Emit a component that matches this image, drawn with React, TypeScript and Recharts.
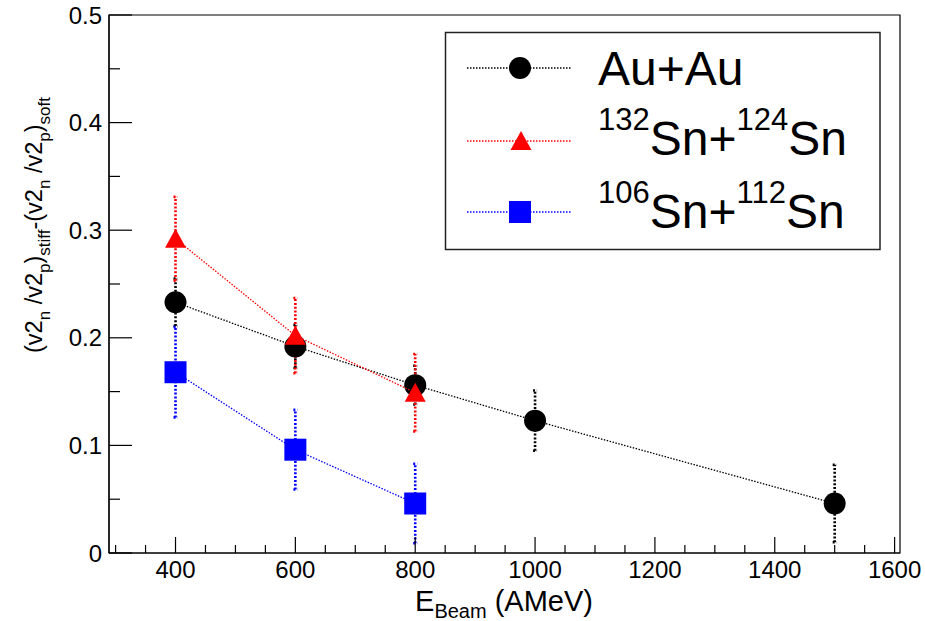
import React from 'react';
import { ScatterChart, Scatter, XAxis, YAxis, ErrorBar, ReferenceArea } from 'recharts';

// beam energy (AMeV) and difference of the elliptic flow ratio, per system
const auEnergy = [400, 600, 800, 1000, 1500];
const auValue = [0.233, 0.192, 0.156, 0.123, 0.046];
const auError = [0.022, 0.02, 0.018, 0.028, 0.036];

const sn132Energy = [400, 600, 800];
const sn132Value = [0.292, 0.202, 0.149];
const sn132Error = [0.039, 0.035, 0.036];

const sn106Energy = [400, 600, 800];
const sn106Value = [0.168, 0.096, 0.046];
const sn106Error = [0.042, 0.037, 0.037];

const xTicks = [300, 350, 400, 450, 500, 550, 600, 650, 700, 750, 800, 850, 900, 950, 1000,
  1050, 1100, 1150, 1200, 1250, 1300, 1350, 1400, 1450, 1500, 1550, 1600];
const xMajor = [400, 600, 800, 1000, 1200, 1400, 1600];
const yTicks = [0, 0.05, 0.1, 0.15, 0.2, 0.25, 0.3, 0.35, 0.4, 0.45, 0.5];
const yMajor = [0, 0.1, 0.2, 0.3, 0.4, 0.5];

const FONT = '"Liberation Sans", Arial, Helvetica, sans-serif';

const toPoints = (xs: number[], ys: number[], es: number[]) =>
  xs.map((x, i) => ({ x, y: ys[i], err: es[i] }));

const auData = toPoints(auEnergy, auValue, auError);
const sn132Data = toPoints(sn132Energy, sn132Value, sn132Error);
const sn106Data = toPoints(sn106Energy, sn106Value, sn106Error);

const XTick = (props: any) => {
  const { x, y, payload } = props;
  const major = xMajor.includes(payload.value);
  return (
    <g>
      <line x1={x} y1={y} x2={x} y2={y - (major ? 16 : 8)} stroke="#000" strokeWidth={1.2} />
      {major && (
        <text x={x} y={y + 25} textAnchor="middle" fontSize={24} fontFamily={FONT} fill="#000">
          {payload.value}
        </text>
      )}
    </g>
  );
};

const YTick = (props: any) => {
  const { x, y, payload } = props;
  const major = yMajor.includes(payload.value);
  return (
    <g>
      <line x1={x} y1={y} x2={x + (major ? 23 : 11)} y2={y} stroke="#000" strokeWidth={1.2} />
      {major && (
        <text x={x - 7} y={y + 8.5} textAnchor="end" fontSize={24} fontFamily={FONT} fill="#000">
          {payload.value}
        </text>
      )}
    </g>
  );
};

const Dot = (props: any) => <circle cx={props.cx} cy={props.cy} r={11} fill="#000" />;
const Tri = (props: any) => (
  <polygon
    points={`${props.cx},${props.cy - 10} ${props.cx - 10.5},${props.cy + 9} ${props.cx + 10.5},${props.cy + 9}`}
    fill="#ff0000"
  />
);
const Sq = (props: any) => (
  <rect x={props.cx - 11} y={props.cy - 11} width={22} height={22} fill="#0000ff" />
);

const YTitle = () => (
  <text transform="translate(42, 97) rotate(-90)" textAnchor="end" fontFamily={FONT} fontSize={23.5} fill="#000">
    <tspan>(v2</tspan>
    <tspan fontSize={17} dy={8}>n</tspan>
    <tspan dy={-8}> /v2</tspan>
    <tspan fontSize={17} dy={8}>p</tspan>
    <tspan dy={-8}>)</tspan>
    <tspan fontSize={17} dy={8}>stiff</tspan>
    <tspan dy={-8}>-(v2</tspan>
    <tspan fontSize={17} dy={8}>n</tspan>
    <tspan dy={-8}> /v2</tspan>
    <tspan fontSize={17} dy={8}>p</tspan>
    <tspan dy={-8}>)</tspan>
    <tspan fontSize={17} dy={8}>soft</tspan>
  </text>
);

const XTitle = () => (
  <text x={504} y={611} textAnchor="middle" fontFamily={FONT} fontSize={29} fill="#000">
    <tspan>E</tspan>
    <tspan fontSize={20} dy={7}>Beam</tspan>
    <tspan dy={-7}> (AMeV)</tspan>
  </text>
);

const lineStyle = (color: string) => ({ stroke: color, strokeWidth: 1.3, strokeDasharray: '1.5 1.5' });

function LegendBox() {
  const rows = [
    { y: 68, color: '#000', marker: <circle cx={520} cy={68} r={11} fill="#000" /> },
    { y: 141, color: '#ff0000', marker: <polygon points="521,131 510.5,150 531.5,150" fill="#ff0000" /> },
    { y: 212, color: '#0000ff', marker: <rect x={509} y={201} width={22} height={22} fill="#0000ff" /> },
  ];
  return (
    <svg width={925} height={621} style={{ position: 'absolute', left: 0, top: 0, pointerEvents: 'none' }}>
      <rect x={445.5} y={32.5} width={434.5} height={217} fill="#fff" stroke="#222" strokeWidth={1.5} />
      {rows.map((r, i) => (
        <g key={i}>
          <line x1={467} x2={572} y1={r.y} y2={r.y} {...lineStyle(r.color)} />
          {r.marker}
        </g>
      ))}
      <text x={598} y={85} fontFamily={FONT} fontSize={48} fill="#000">Au+Au</text>
      <text x={598} y={155} fontFamily={FONT} fontSize={48} fill="#000">
        <tspan fontSize={31} dy={-25}>132</tspan>
        <tspan dy={25}>Sn+</tspan>
        <tspan fontSize={31} dy={-25}>124</tspan>
        <tspan dy={25}>Sn</tspan>
      </text>
      <text x={598} y={228} fontFamily={FONT} fontSize={48} fill="#000">
        <tspan fontSize={31} dy={-25}>106</tspan>
        <tspan dy={25}>Sn+</tspan>
        <tspan fontSize={31} dy={-25}>112</tspan>
        <tspan dy={25}>Sn</tspan>
      </text>
    </svg>
  );
}

const errStyle = (color: string) => ({ stroke: color, strokeWidth: 2.6, strokeDasharray: '2 1.8' });

export default function App() {
  return (
    <div style={{ position: 'relative', width: 925, height: 621, background: '#fff' }}>
      <style>{'body{margin:0}'}</style>
      <ScatterChart width={925} height={621} margin={{ top: 15, right: 25, left: 0, bottom: 0 }}>
        <XAxis
          dataKey="x"
          type="number"
          domain={[289, 1609]}
          ticks={xTicks}
          interval={0}
          allowDataOverflow
          height={68}
          tickSize={0}
          tickMargin={0}
          tickLine={false}
          tick={<XTick />}
          axisLine={{ stroke: '#000', strokeWidth: 1.2 }}
          label={<XTitle />}
        />
        <YAxis
          dataKey="y"
          type="number"
          domain={[0, 0.5]}
          ticks={yTicks}
          interval={0}
          allowDataOverflow
          width={109}
          tickSize={0}
          tickMargin={0}
          tickLine={false}
          tick={<YTick />}
          axisLine={{ stroke: '#000', strokeWidth: 1.2 }}
          label={<YTitle />}
        />
        <ReferenceArea x1={289} x2={1609} y1={0} y2={0.5} fill="none" stroke="#000" strokeWidth={1.2} ifOverflow="visible" />
        <Scatter data={auData} fill="#000" shape={Dot} line={lineStyle('#000')} isAnimationActive={false}>
          <ErrorBar dataKey="err" direction="y" width={2} {...errStyle('#000')} isAnimationActive={false} />
        </Scatter>
        <Scatter data={sn132Data} fill="#ff0000" shape={Tri} line={lineStyle('#ff0000')} isAnimationActive={false}>
          <ErrorBar dataKey="err" direction="y" width={2} {...errStyle('#ff0000')} isAnimationActive={false} />
        </Scatter>
        <Scatter data={sn106Data} fill="#0000ff" shape={Sq} line={lineStyle('#0000ff')} isAnimationActive={false}>
          <ErrorBar dataKey="err" direction="y" width={2} {...errStyle('#0000ff')} isAnimationActive={false} />
        </Scatter>
      </ScatterChart>
      <LegendBox />
    </div>
  );
}
